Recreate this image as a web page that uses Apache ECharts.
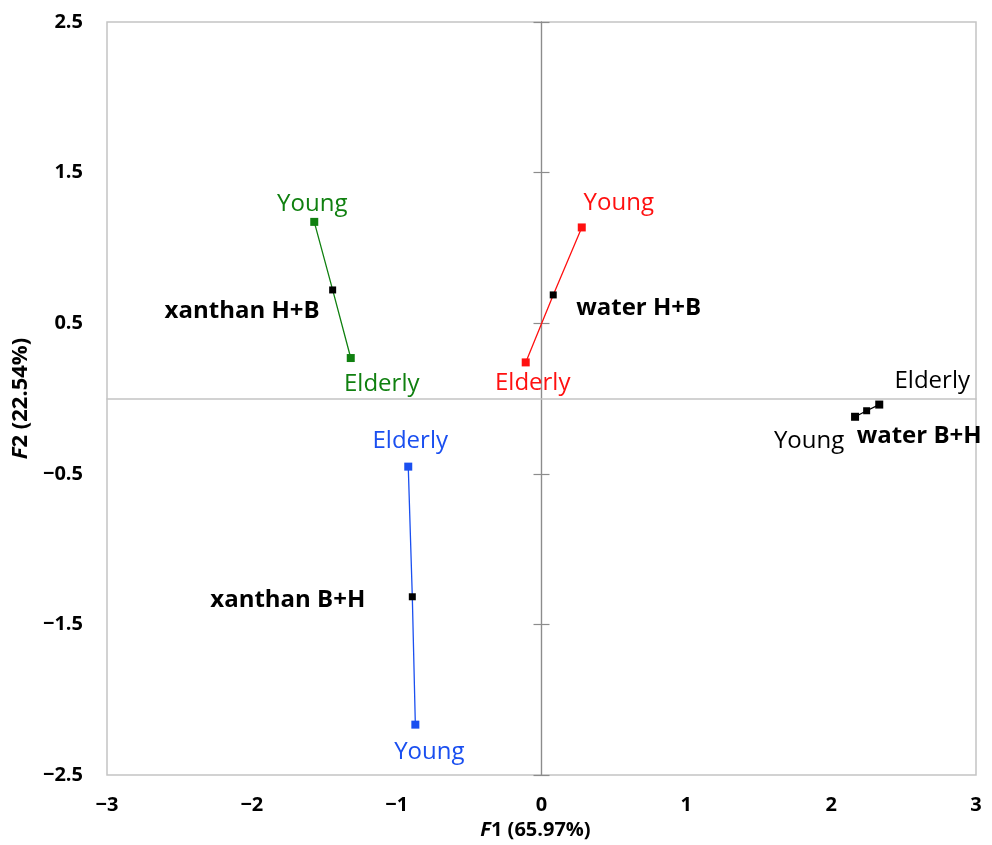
<!DOCTYPE html>
<html>
<head>
<meta charset="utf-8">
<script src="https://cdn.jsdelivr.net/npm/echarts@6/dist/echarts.min.js"></script>
<style>
html,body{margin:0;padding:0;background:#fff;}
#chart{width:992px;height:845px;}
</style>
</head>
<body>
<div id="chart"></div>
<script>
// ---- data ----
const groupNames = ['xanthan H+B', 'water H+B', 'xanthan B+H', 'water B+H'];
const pointRoles = ['Young', 'mean', 'Elderly'];
const xanthanHB_F1 = [-1.569, -1.442, -1.317];
const xanthanHB_F2 = [1.173, 0.721, 0.269];
const waterHB_F1 = [0.278, 0.081, -0.109];
const waterHB_F2 = [1.136, 0.688, 0.240];
const xanthanBH_F1 = [-0.871, -0.892, -0.920];
const xanthanBH_F2 = [-2.165, -1.316, -0.452];
const waterBH_F1 = [2.165, 2.245, 2.332];
const waterBH_F2 = [-0.121, -0.081, -0.040];
const xTicks = [-3, -2, -1, 0, 1, 2, 3];
const yTicks = [-2.5, -1.5, -0.5, 0.5, 1.5, 2.5];
const xAxisTitle = ['F', '1 (65.97%)'];
const yAxisTitle = ['F', '2 (22.54%)'];

// ---- styles ----
const FONT = '"Open Sans", "Noto Sans", sans-serif';
const groupColors = ['#108010', '#ff1010', '#1a4ff0', '#000000'];
// label offsets per group per point [Young, mean, Elderly]
const labelOffsets = [
  [[-2, -18], [-13, 21], [31, 26]],
  [[37, -24], [23, 13], [7, 21]],
  [[14, 28], [-47, 3], [2, -25]],
  [[-46, 24], [-10, 25], [53, -23]]
];
const meanAlign = ['right', 'left', 'right', 'left'];

const F1s = [xanthanHB_F1, waterHB_F1, xanthanBH_F1, waterBH_F1];
const F2s = [xanthanHB_F2, waterHB_F2, xanthanBH_F2, waterBH_F2];

const minus = v => String(v).replace('-', '\u2212');

const series = groupNames.map((g, gi) => {
  const color = groupColors[gi];
  const data = pointRoles.map((role, pi) => {
    const isMean = role === 'mean';
    return {
      value: [F1s[gi][pi], F2s[gi][pi]],
      symbolSize: isMean ? 7 : 8,
      itemStyle: { color: isMean ? '#000' : color },
      label: {
        show: true,
        position: 'inside',
        formatter: isMean ? g : role,
        offset: labelOffsets[gi][pi],
        align: isMean ? meanAlign[gi] : 'center',
        verticalAlign: 'middle',
        color: isMean ? '#000' : color,
        fontFamily: FONT,
        fontSize: isMean ? 24 : 24,
        fontWeight: isMean ? 'bold' : 'normal'
      }
    };
  });
  return {
    type: 'line',
    name: g,
    data: data,
    symbol: 'rect',
    showAllSymbol: true,
    lineStyle: { color: color, width: 1.3 },
    itemStyle: { color: color },
    z: 3,
    animation: false
  };
});

const base = { type: 'value', min: yTicks[0], max: yTicks[yTicks.length - 1], interval: 1, splitLine: { show: false } };
const titleRich = size => ({
  i: { fontFamily: FONT, fontSize: size, fontWeight: 'bold', fontStyle: 'italic', color: '#000' },
  n: { fontFamily: FONT, fontSize: size, fontWeight: 'bold', color: '#000' }
});

const option = {
  animation: false,
  backgroundColor: '#fff',
  grid: {
    left: 107, right: 16, top: 22, bottom: 67,
    show: true, borderColor: '#c4c4c4', borderWidth: 1.5, backgroundColor: 'transparent'
  },
  xAxis: [
    {
      type: 'value', min: xTicks[0], max: xTicks[xTicks.length - 1], interval: 1,
      position: 'bottom',
      axisLine: { show: false, onZero: false },
      axisTick: { show: false },
      splitLine: { show: false },
      axisLabel: { color: '#000', fontFamily: FONT, fontWeight: 'bold', fontSize: 20, margin: 20, formatter: minus },
      name: '{i|' + xAxisTitle[0] + '}{n|' + xAxisTitle[1] + '}',
      nameLocation: 'middle',
      nameGap: 37,
      nameTextStyle: { rich: titleRich(20), padding: [0, 12, 0, 0] }
    },
    {
      type: 'value', min: xTicks[0], max: xTicks[xTicks.length - 1], interval: 1,
      position: 'bottom',
      axisLine: { show: true, onZero: true, onZeroAxisIndex: 0, lineStyle: { color: '#c4c4c4', width: 1.5 } },
      axisTick: { show: false },
      axisLabel: { show: false },
      splitLine: { show: false }
    }
  ],
  yAxis: [
    Object.assign({}, base, {
      position: 'left',
      axisLine: { show: false, onZero: false },
      axisTick: { show: false },
      axisLabel: { color: '#000', fontFamily: FONT, fontWeight: 'bold', fontSize: 20, margin: 24, formatter: minus },
      name: '{i|' + yAxisTitle[0] + '}{n|' + yAxisTitle[1] + '}',
      nameLocation: 'middle',
      nameGap: 68,
      nameTextStyle: { rich: titleRich(22) }
    }),
    Object.assign({}, base, {
      position: 'left',
      axisLine: { show: true, onZero: true, onZeroAxisIndex: 0, lineStyle: { color: '#8c8c8c', width: 1.2 } },
      axisTick: { show: true, inside: false, length: 8, lineStyle: { color: '#8c8c8c', width: 1.2 } },
      axisLabel: { show: false }
    }),
    Object.assign({}, base, {
      position: 'left',
      axisLine: { show: true, onZero: true, onZeroAxisIndex: 0, lineStyle: { color: '#8c8c8c', width: 1.2 } },
      axisTick: { show: true, inside: true, length: 8, lineStyle: { color: '#8c8c8c', width: 1.2 } },
      axisLabel: { show: false }
    })
  ],
  series: series
};

const chart = echarts.init(document.getElementById('chart'), null, { renderer: 'canvas' });
chart.setOption(option);
</script>
</body>
</html>
